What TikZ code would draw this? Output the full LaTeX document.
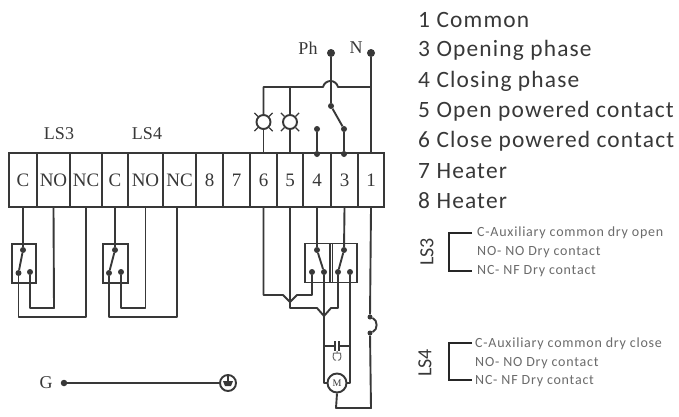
\documentclass[tikz,border=0pt]{standalone}
\usepackage{fontspec}
\setmainfont{Liberation Serif}
\newfontfamily\carl[LetterSpace=5]{Carlito}
\newfontfamily\carlsm[LetterSpace=5.5]{Carlito}
\newfontfamily\carlls{Carlito}
\definecolor{ink}{gray}{0.22}
\definecolor{soft}{gray}{0.42}
\tikzset{
  wire/.style={draw=ink,line width=1.9pt,line join=round},
  cell/.style={draw=ink,line width=1.9pt,rectangle,inner sep=0pt,minimum height=54pt,font=\fontsize{19}{19}\selectfont,text=ink},
  dot/.style={circle,fill=ink,inner sep=0pt,minimum size=6pt},
  bigdot/.style={circle,fill=ink,inner sep=0pt,minimum size=8pt},
  swbox/.style={draw=ink,line width=1.9pt,rectangle,inner sep=0pt,minimum height=39pt},
  lamp/.style={draw=ink,line width=1.9pt,circle,inner sep=0pt,minimum size=14pt},
  tick/.style={draw=ink,line width=1.3pt},
  listtxt/.style={anchor=west,inner sep=0pt,font=\carl\fontsize{23.4}{23.4}\selectfont,text=ink},
  smalltxt/.style={anchor=west,inner sep=0pt,font=\carlsm\fontsize{14}{14}\selectfont,text=soft},
  lstxt/.style={inner sep=0pt,rotate=90,font=\carlls\fontsize{20}{20}\selectfont,text=ink},
  lab/.style={inner sep=0pt,font=\fontsize{18}{18}\selectfont,text=ink},
  brk/.style={draw=black!85,line width=1.2pt}
}
\begin{document}
\begin{tikzpicture}[x=1pt,y=-1pt]
\useasboundingbox (0,0) rectangle (679,416);
\fill[white] (0,0) rectangle (679,416);
% terminal strip
\node[cell,minimum width=28pt] (tC1) at (23,180) {C};
\node[cell,minimum width=33pt] (tNO1) at (53.5,180) {NO};
\node[cell,minimum width=32pt] (tNC1) at (86,180) {NC};
\node[cell,minimum width=26pt] (tC2) at (115,180) {C};
\node[cell,minimum width=35pt] (tNO2) at (145.5,180) {NO};
\node[cell,minimum width=33pt] (tNC2) at (179.5,180) {NC};
\node[cell,minimum width=27pt] (t8) at (209.5,180) {8};
\node[cell,minimum width=27pt] (t7) at (236.5,180) {7};
\node[cell,minimum width=27pt] (t6) at (263.5,180) {6};
\node[cell,minimum width=26pt] (t5) at (290,180) {5};
\node[cell,minimum width=28pt] (t4) at (317,180) {4};
\node[cell,minimum width=27pt] (t3) at (344.5,180) {3};
\node[cell,minimum width=26pt] (t1) at (371,180) {1};
% labels
\node[lab] (ls3) at (59,134) {LS3};
\node[lab] (ls4) at (147,134) {LS4};
\node[lab] (ph) at (308,48) {Ph};
\node[lab] (n) at (356,48) {N};
\node[lab] (g) at (46,383) {G};
% LS3 limit switch
\node[swbox,minimum width=24pt] (b1) at (24,263.5) {};
\node[dot] (b1a) at (23,250) {};
\node[dot] (b1b) at (18.5,273) {};
\node[dot] (b1c) at (30,272) {};
\draw[wire] (tC1.south) -- (b1a);
\draw[wire] (b1a) -- (b1b);
\coordinate (w1) at (54,308);
\draw[wire] (tNO1.south) -- (w1) -| (b1c);
\coordinate (w2) at (86,317);
\draw[wire] (tNC1.south) -- (w2) -| (b1b);
% LS4 limit switch
\node[swbox,minimum width=25pt] (b2) at (115.5,263.5) {};
\node[dot] (b2a) at (115,250) {};
\node[dot] (b2b) at (109,273) {};
\node[dot] (b2c) at (121,272) {};
\draw[wire] (tC2.south) -- (b2a);
\draw[wire] (b2a) -- (b2b);
\coordinate (w3) at (145.5,308);
\draw[wire] (tNO2.south) -- (w3) -| (b2c);
\coordinate (w4a) at (177,207);
\coordinate (w4) at (177,317);
\draw[wire] (w4a) -- (w4) -| (b2b);
% supply
\node[bigdot] (phd) at (331,53) {};
\node[bigdot] (nd) at (371,53) {};
\node[dot] (s1) at (331,106) {};
\node[dot] (s2) at (344,129) {};
\node[dot] (s3) at (317,129) {};
\node[dot] (j4) at (317,154) {};
\node[dot] (j3) at (344,154) {};
\draw[wire] (nd) -- (t1.north);
\draw[wire] (phd) -- (s1) -- (s2) -- (j3);
\draw[wire] (s3) -- (j4);
% lamps
\node[lamp] (l6) at (263.5,122) {};
\node[lamp] (l5) at (290,122) {};
\foreach \l in {l6,l5}{
  \draw[tick] (\l.45) -- ++(3.5,-3.5);
  \draw[tick] (\l.135) -- ++(-3.5,-3.5);
  \draw[tick] (\l.225) -- ++(-3.5,3.5);
  \draw[tick] (\l.315) -- ++(3.5,3.5);
}
\coordinate (h0) at (263.5,87);
\coordinate (h1) at (323,87);
\coordinate (h2) at (338,87);
\coordinate (h3) at (371,87);
\coordinate (h5) at (290,87);
\draw[wire] (l6.south) -- (t6.north);
\draw[wire] (l5.south) -- (t5.north);
\draw[wire] (l6.north) -- (h0) -- (h1) .. controls (325,79) and (336,79) .. (h2) -- (h3);
\draw[wire] (l5.north) -- (h5);
% relay box
\node[swbox,minimum width=52pt] (rb) at (331,263) {};
\draw[wire] (330,243) -- (330,283);
\draw[wire] (332.5,243) -- (332.5,283);
\node[dot] (r1) at (317,250) {};
\node[dot] (r2) at (344,250) {};
\node[dot] (r3) at (312,272) {};
\node[dot] (r4) at (324,272) {};
\node[dot] (r5) at (338,272) {};
\node[dot] (r6) at (350,272) {};
\draw[wire] (t4.south) -- (r1) -- (r4);
\draw[wire] (t3.south) -- (r2) -- (r5);
% crossing wires
\coordinate (a1) at (263.5,295);
\coordinate (a2) at (283,295);
\coordinate (a3) at (290,302);
\coordinate (a4) at (297,295);
\coordinate (a5) at (312,295);
\draw[wire] (t6.south) -- (a1) -- (a2) -- (a3) -- (a4) -- (a5) -- (r3);
\coordinate (c1) at (290,308);
\coordinate (c2) at (317,308);
\coordinate (c3) at (324,316);
\coordinate (c4) at (331,308);
\coordinate (c5) at (338,308);
\draw[wire] (t5.south) -- (c1) -- (c2) -- (c3) -- (c4) -- (c5) -- (r5);
% motor
\node[draw=ink,line width=1.9pt,circle,inner sep=0pt,minimum size=19pt,font=\fontsize{10}{10}\selectfont,text=ink] (m) at (337,383) {M};
\coordinate (m1) at (324,383);
\coordinate (m2) at (350,383);
\draw[wire] (r4) -- (m1) -- (m.west);
\draw[wire] (r6) -- (m2) -- (m.east);
% capacitor
\coordinate (k1) at (335,346);
\coordinate (k2) at (339,346);
\draw[wire] (324,346) -- (k1);
\draw[wire] (k2) -- (350,346);
\draw[wire] (335,341) -- (335,351);
\draw[wire] (339,341) -- (339,351);
\draw[draw=soft,line width=1pt] (337,351) -- (337,353) (333.5,353) .. controls (332,359) and (335,361) .. (336,360) (340.5,353) .. controls (342,359) and (339,361) .. (338,360) (333.5,353) -- (340.5,353);
% neutral return
\node[dot,minimum size=5pt] (f1) at (370,317) {};
\node[dot,minimum size=5pt] (f2) at (370,333) {};
\coordinate (f3) at (371,408);
\coordinate (f4) at (336,408);
\draw[wire] (t1.south) -- (f1);
\draw[wire] (f1) .. controls (378,320) and (378,330) .. (f2);
\draw[wire] (f2) -- (f3) -- (f4) -- (m.south);
% ground
\node[bigdot,minimum size=6.5pt] (gd) at (64,383) {};
\node[draw=ink,line width=1.9pt,circle,inner sep=0pt,minimum size=16pt] (ge) at (228,383) {};
\draw[wire] (gd) -- (ge);
\draw[draw=ink,line width=1.2pt] (ge.north) -- (228,381);
\fill[ink] (223,381) -- (233,381) -- (231,386) -- (225,386) -- cycle;
% list
\node[listtxt] (i1) at (418,20) {1 Common};
\node[listtxt] (i3) at (418,50) {3 Opening phase};
\node[listtxt] (i4) at (418,81) {4 Closing phase};
\node[listtxt] (i5) at (418,111) {5 Open powered contact};
\node[listtxt] (i6) at (418,141) {6 Close powered contact};
\node[listtxt] (i7) at (418,171) {7 Heater};
\node[listtxt] (i8) at (418,201) {8 Heater};
% LS3 key
\node[smalltxt] (k3a) at (477,233) {C-Auxiliary common dry open};
\node[smalltxt] (k3b) at (477,252) {NO- NO Dry contact};
\node[smalltxt] (k3c) at (477,271) {NC- NF Dry contact};
\node[lstxt] (k3l) at (427,252) {LS3};
\coordinate (k3x) at (449,252);
\draw[brk] (472,233) -| (k3x) |- (472,271);
% LS4 key
\node[smalltxt] (k4a) at (475,344) {C-Auxiliary common dry close};
\node[smalltxt] (k4b) at (475,363) {NO- NO Dry contact};
\node[smalltxt] (k4c) at (475,381) {NC- NF Dry contact};
\node[lstxt] (k4l) at (425,363) {LS4};
\coordinate (k4x) at (449,362);
\draw[brk] (472,343) -| (k4x) |- (472,380);
\end{tikzpicture}
\end{document}
